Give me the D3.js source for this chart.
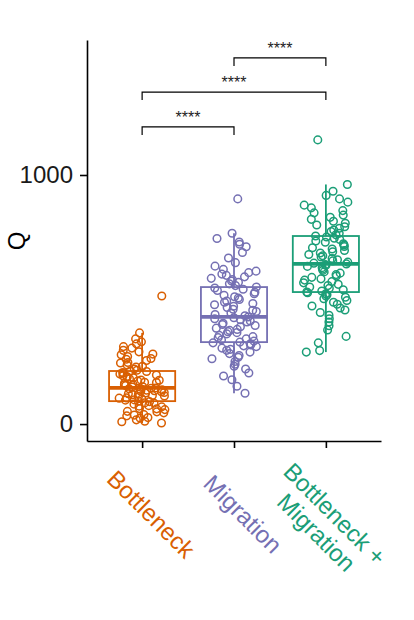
<!DOCTYPE html>
<html>
<head>
<meta charset="utf-8">
<script src="https://cdn.jsdelivr.net/npm/d3@7"></script>
<style>
  body { margin: 0; background: #fff; }
</style>
</head>
<body>
<script>
const width = 414;
const height = 620;

const categories = ["Bottleneck", "Migration", "Bottleneck + Migration"];
const labelLines = [["Bottleneck"], ["Migration"], ["Bottleneck +", "Migration"]];
const colors = ["#d95f02", "#7570b3", "#1b9e77"];

// Q values
const bottleneck = [4, 9, 11, 17, 24, 26, 33, 36, 38, 45, 49, 51, 58, 61, 62, 69, 72, 74, 80, 84, 85, 90,
  92,
  96, 97, 101, 104, 105, 110, 113, 115, 118, 120, 122, 125, 127, 130, 132, 134, 136, 138, 140, 142, 144,
  145,
  149, 150, 155, 158, 159, 164, 167, 168, 173, 176, 177, 182, 186, 188, 191, 194, 197, 201, 204, 207, 211,
  213,
  216, 221, 229, 232, 237, 245, 247, 255, 260, 263, 271, 278, 281, 290, 296, 305, 311, 322, 330, 342, 366, 514];

const migration = [124, 152, 178, 193, 205, 221, 232, 240, 251, 262, 268, 275, 283, 289, 296, 300, 305, 311, 314, 318, 322, 326,
  329,
  333, 338, 342, 347, 351, 356, 362, 367, 371, 376, 380, 385, 391, 396, 400, 405, 410, 414, 419, 423, 427,
  430,
  435, 440, 446, 452, 457, 461, 468, 473, 479, 484, 489, 494, 500, 506, 511, 517, 523, 529, 536, 541, 546,
  550,
  556, 563, 569, 574, 580, 585, 591, 597, 602, 608, 614, 621, 634, 648, 667, 689, 712, 722, 731, 745, 766, 904];

const bottleneckMigration = [289, 295, 326, 352, 378, 395, 410, 423, 437, 448, 458, 466, 474, 481, 489, 496, 503, 509, 514, 519, 523, 527,
  530,
  534, 539, 545, 550, 556, 561, 567, 572, 578, 583, 589, 594, 600, 606, 611, 617, 622, 628, 633, 637, 640,
  643,
  646, 650, 655, 660, 665, 671, 676, 681, 687, 692, 697, 703, 708, 713, 719, 724, 730, 735, 741, 746, 751,
  755,
  760, 766, 773, 779, 786, 792, 799, 806, 814, 822, 830, 839, 848, 857, 868, 879, 891, 904, 918, 935, 962, 1141];

const groups = [bottleneck, migration, bottleneckMigration];
const yTicks = [0, 1000];

// pairwise tests drawn as brackets (y in Q units)
const comparisons = [
  {from: 0, to: 1, label: "****", y: 1193},
  {from: 0, to: 2, label: "****", y: 1333},
  {from: 1, to: 2, label: "****", y: 1470}
];

const font = "'Liberation Sans', Arial, sans-serif";

const x = d3.scalePoint()
    .domain(categories)
    .range([87, 381])
    .padding(0.6);

const y = d3.scaleLinear()
    .domain([-68, 1542])
    .range([441, 40]);

const svg = d3.create("svg")
    .attr("width", width)
    .attr("height", height)
    .style("background", "#fff");

const boxW = x.step() * 0.72;
const jitterW = x.step() * 0.25;

// fixed hash so the jitter is the same on every render
function jitter(i, g) {
  const s = Math.sin((i + 1) * 12.9898 + g * 78.233) * 43758.5453;
  return (s - Math.floor(s)) * 2 - 1;
}

groups.forEach((vals, gi) => {
  const cx = x(categories[gi]);
  const color = colors[gi];
  const sorted = vals.slice().sort(d3.ascending);
  const q1 = d3.quantile(sorted, 0.25);
  const med = d3.quantile(sorted, 0.5);
  const q3 = d3.quantile(sorted, 0.75);
  const iqr = q3 - q1;
  const hi = d3.max(sorted.filter(v => v <= q3 + 1.5 * iqr));
  const lo = d3.min(sorted.filter(v => v >= q1 - 1.5 * iqr));

  const g = svg.append("g");

  g.append("line")
      .attr("x1", cx).attr("x2", cx)
      .attr("y1", y(q3)).attr("y2", y(hi))
      .attr("stroke", color)
      .attr("stroke-width", 1.8);

  g.append("line")
      .attr("x1", cx).attr("x2", cx)
      .attr("y1", y(q1)).attr("y2", y(lo))
      .attr("stroke", color)
      .attr("stroke-width", 1.8);

  g.append("rect")
      .attr("x", cx - boxW / 2)
      .attr("y", y(q3))
      .attr("width", boxW)
      .attr("height", y(q1) - y(q3))
      .attr("fill", "none")
      .attr("stroke", color)
      .attr("stroke-width", 1.8);

  g.append("line")
      .attr("x1", cx - boxW / 2).attr("x2", cx + boxW / 2)
      .attr("y1", y(med)).attr("y2", y(med))
      .attr("stroke", color)
      .attr("stroke-width", 3.8);

  g.selectAll("circle")
    .data(vals)
    .join("circle")
      .attr("cx", (d, i) => cx + jitter(i, gi) * jitterW)
      .attr("cy", d => y(d))
      .attr("r", 3.8)
      .attr("fill", "none")
      .attr("stroke", color)
      .attr("stroke-width", 1.5);
});

// axes
const yAxis = svg.append("g")
    .attr("transform", "translate(87,0)")
    .call(d3.axisLeft(y).tickValues(yTicks).tickFormat(d3.format("d"))
      .tickSize(7).tickSizeOuter(0).tickPadding(7));

yAxis.selectAll("path, line")
    .attr("stroke", "#000")
    .attr("stroke-width", 1.6);
yAxis.selectAll("text")
    .attr("font-family", font)
    .attr("font-size", 24)
    .attr("fill", "#1a1a1a");

const xAxis = svg.append("g")
    .attr("transform", "translate(0,441)")
    .call(d3.axisBottom(x).tickSize(7).tickSizeOuter(0).tickFormat(""));

xAxis.selectAll("path, line")
    .attr("stroke", "#000")
    .attr("stroke-width", 1.6);

// rotated category labels
categories.forEach((c, i) => {
  const t = svg.append("text")
      .attr("transform", `translate(${x(c) + 3},${520}) rotate(45)`)
      .attr("text-anchor", "middle")
      .attr("font-family", font)
      .attr("font-size", 24)
      .attr("fill", colors[i]);
  labelLines[i].forEach((line, li) => {
    t.append("tspan")
        .attr("x", 0)
        .attr("dy", li === 0 ? 0 : 26)
        .text(line);
  });
});

svg.append("text")
    .attr("transform", "translate(25,241) rotate(-90)")
    .attr("text-anchor", "middle")
    .attr("font-family", font)
    .attr("font-size", 24)
    .attr("fill", "#000")
    .text("Q");

// significance brackets
const tip = 8;
comparisons.forEach(cmp => {
  const x1 = x(categories[cmp.from]);
  const x2 = x(categories[cmp.to]);
  const yy = y(cmp.y);
  svg.append("path")
      .attr("d", `M${x1},${yy + tip}V${yy}H${x2}V${yy + tip}`)
      .attr("fill", "none")
      .attr("stroke", "#000")
      .attr("stroke-width", 1.2);
  svg.append("text")
      .attr("x", (x1 + x2) / 2)
      .attr("y", yy - 4)
      .attr("text-anchor", "middle")
      .attr("font-family", font)
      .attr("font-size", 16)
      .attr("fill", "#222")
      .text(cmp.label);
});

document.body.appendChild(svg.node());
</script>
</body>
</html>
